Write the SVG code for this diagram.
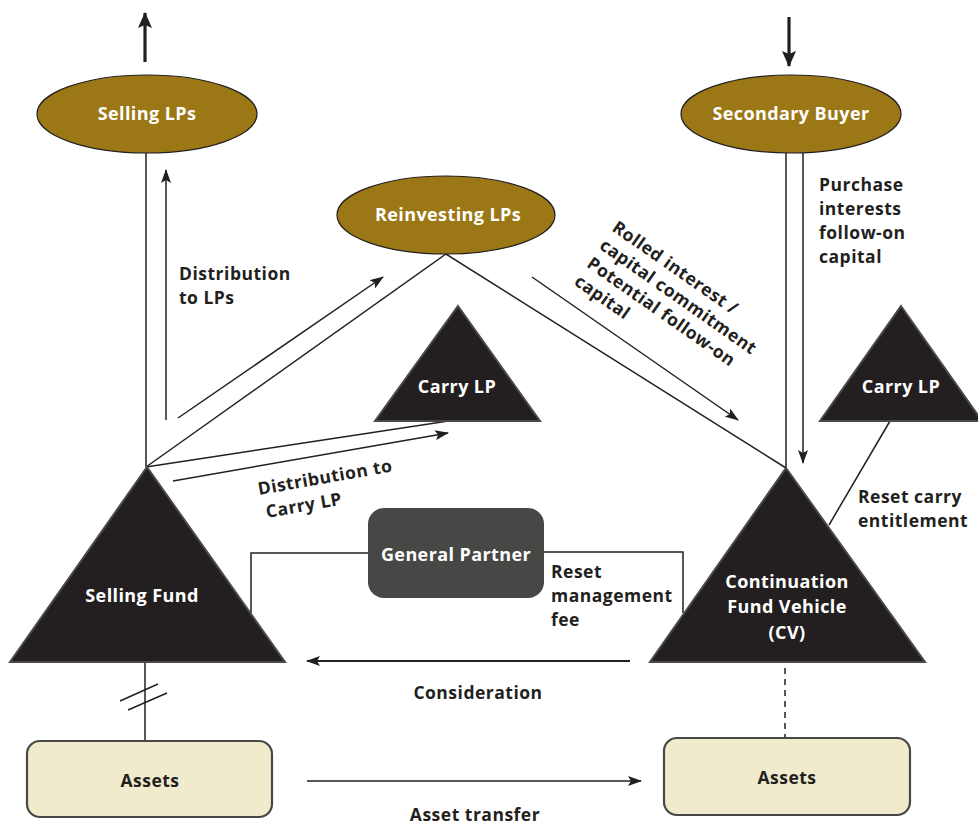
<svg xmlns="http://www.w3.org/2000/svg" width="978" height="827" viewBox="0 0 978 827">
<style>
.ln{stroke:#231f20;stroke-width:1.5;fill:none}
.ell{fill:#9b7715;stroke:#231f20;stroke-width:1.2}
.tri{fill:#231f20;stroke:#4a4a4a;stroke-width:2}
.asset{fill:#efebcc;stroke:#474846;stroke-width:2.2}
.wt{font-family:"Open Sans","Liberation Sans",sans-serif;font-weight:700;font-size:18px;letter-spacing:0.4px;fill:#ffffff;text-anchor:middle}
.bk{font-family:"Open Sans","Liberation Sans",sans-serif;font-weight:700;font-size:17.5px;letter-spacing:0.5px;fill:#231f20}
.bkc{font-family:"Open Sans","Liberation Sans",sans-serif;font-weight:700;font-size:17.5px;letter-spacing:0.5px;fill:#231f20;text-anchor:middle}
</style>
<defs>
<marker id="ah" viewBox="0 0 14 10" refX="13" refY="5" markerWidth="14" markerHeight="10" markerUnits="userSpaceOnUse" orient="auto">
<path d="M0,0 L14,5 L0,10 L3,5 Z" fill="#231f20"/>
</marker>
<marker id="ahb" viewBox="0 0 16 14" refX="15" refY="7" markerWidth="16" markerHeight="14" markerUnits="userSpaceOnUse" orient="auto">
<path d="M0,0 L16,7 L0,14 L3,7 Z" fill="#231f20"/>
</marker>
</defs>
<rect width="978" height="827" fill="#ffffff"/>

<g id="connectors">
<line x1="145" y1="62" x2="145" y2="13" class="ln" style="stroke-width:3.2" marker-end="url(#ahb)"/>
<line x1="789" y1="17" x2="789" y2="66" class="ln" style="stroke-width:3.2" marker-end="url(#ahb)"/>
<line x1="146" y1="153" x2="146" y2="467" class="ln"/>
<line x1="166" y1="420" x2="166" y2="170" class="ln" marker-end="url(#ah)"/>
<line x1="146" y1="467" x2="446" y2="254" class="ln"/>
<line x1="446" y1="254" x2="786" y2="468" class="ln"/>
<line x1="178" y1="418" x2="383" y2="277" class="ln" marker-end="url(#ah)"/>
<line x1="532" y1="277" x2="738" y2="420" class="ln" marker-end="url(#ah)"/>
<line x1="146" y1="467" x2="455" y2="420" class="ln"/>
<line x1="173" y1="481" x2="448" y2="433" class="ln" marker-end="url(#ah)"/>
<line x1="786" y1="153" x2="786" y2="468" class="ln"/>
<line x1="803" y1="153" x2="803" y2="463" class="ln" marker-end="url(#ah)"/>
<line x1="890" y1="421" x2="829" y2="525" class="ln"/>
<polyline points="368,553 251,553 251,613" class="ln"/>
<polyline points="544,552 683,552 683,613" class="ln"/>
<line x1="630" y1="661" x2="307" y2="661" class="ln" style="stroke-width:1.8" marker-end="url(#ah)"/>
<line x1="145" y1="662" x2="145" y2="741" class="ln"/>
<line x1="120" y1="701" x2="158" y2="684" class="ln"/>
<line x1="128" y1="710" x2="167" y2="693" class="ln"/>
<line x1="785" y1="668" x2="785" y2="737" class="ln" stroke-dasharray="6,5"/>
<line x1="307" y1="781" x2="641" y2="781" class="ln" marker-end="url(#ah)"/>
</g>

<g id="selling-lps">
<ellipse cx="147" cy="114" rx="110" ry="39" class="ell"/>
<text x="147" y="120" class="wt">Selling LPs</text>
</g>
<g id="reinvesting-lps">
<ellipse cx="446" cy="215" rx="109" ry="39" class="ell"/>
<text x="448" y="221" class="wt">Reinvesting LPs</text>
</g>
<g id="secondary-buyer">
<ellipse cx="791" cy="114" rx="110" ry="39" class="ell"/>
<text x="791" y="120" class="wt">Secondary Buyer</text>
</g>
<g id="carry-lp-left">
<polygon points="458,306 540,421 375,421" class="tri"/>
<text x="457" y="393" class="wt">Carry LP</text>
</g>
<g id="carry-lp-right">
<polygon points="901,306 982,421 820,421" class="tri"/>
<text x="901" y="393" class="wt">Carry LP</text>
</g>
<g id="selling-fund">
<polygon points="147,467 285,662 10,662" class="tri"/>
<text x="142" y="602" class="wt">Selling Fund</text>
</g>
<g id="cv">
<polygon points="786,468 925,662 650,662" class="tri"/>
<text x="787" y="588" class="wt">Continuation</text>
<text x="787" y="613" class="wt">Fund Vehicle</text>
<text x="787" y="639" class="wt">(CV)</text>
</g>
<g id="general-partner">
<rect x="368" y="508" width="176" height="90" rx="16" fill="#474846"/>
<text x="456" y="561" class="wt">General Partner</text>
</g>
<g id="assets-left">
<rect x="27" y="741" width="245" height="76" rx="13" class="asset"/>
<text x="150" y="787" class="bkc">Assets</text>
</g>
<g id="assets-right">
<rect x="664" y="738" width="246" height="77" rx="13" class="asset"/>
<text x="787" y="784" class="bkc">Assets</text>
</g>

<g id="labels">
<text class="bk"><tspan x="179" y="280">Distribution</tspan><tspan x="179" y="304">to LPs</tspan></text>
<text class="bk" transform="translate(259,495) rotate(-10)"><tspan x="0" y="0">Distribution to</tspan><tspan x="4" y="24">Carry LP</tspan></text>
<text class="bk" transform="translate(611,230) rotate(35)"><tspan x="0" y="0">Rolled interest /</tspan><tspan x="0" y="22">capital commitment</tspan><tspan x="0" y="44">Potential follow-on</tspan><tspan x="0" y="66">capital</tspan></text>
<text class="bk"><tspan x="819" y="191">Purchase</tspan><tspan x="819" y="215">interests</tspan><tspan x="819" y="239">follow-on</tspan><tspan x="819" y="263">capital</tspan></text>
<text class="bk"><tspan x="858" y="503">Reset carry</tspan><tspan x="858" y="527">entitlement</tspan></text>
<text class="bk"><tspan x="551" y="578">Reset</tspan><tspan x="551" y="602">management</tspan><tspan x="551" y="626">fee</tspan></text>
<text x="478" y="699" class="bkc">Consideration</text>
<text x="475" y="821" class="bkc">Asset transfer</text>
</g>
</svg>
